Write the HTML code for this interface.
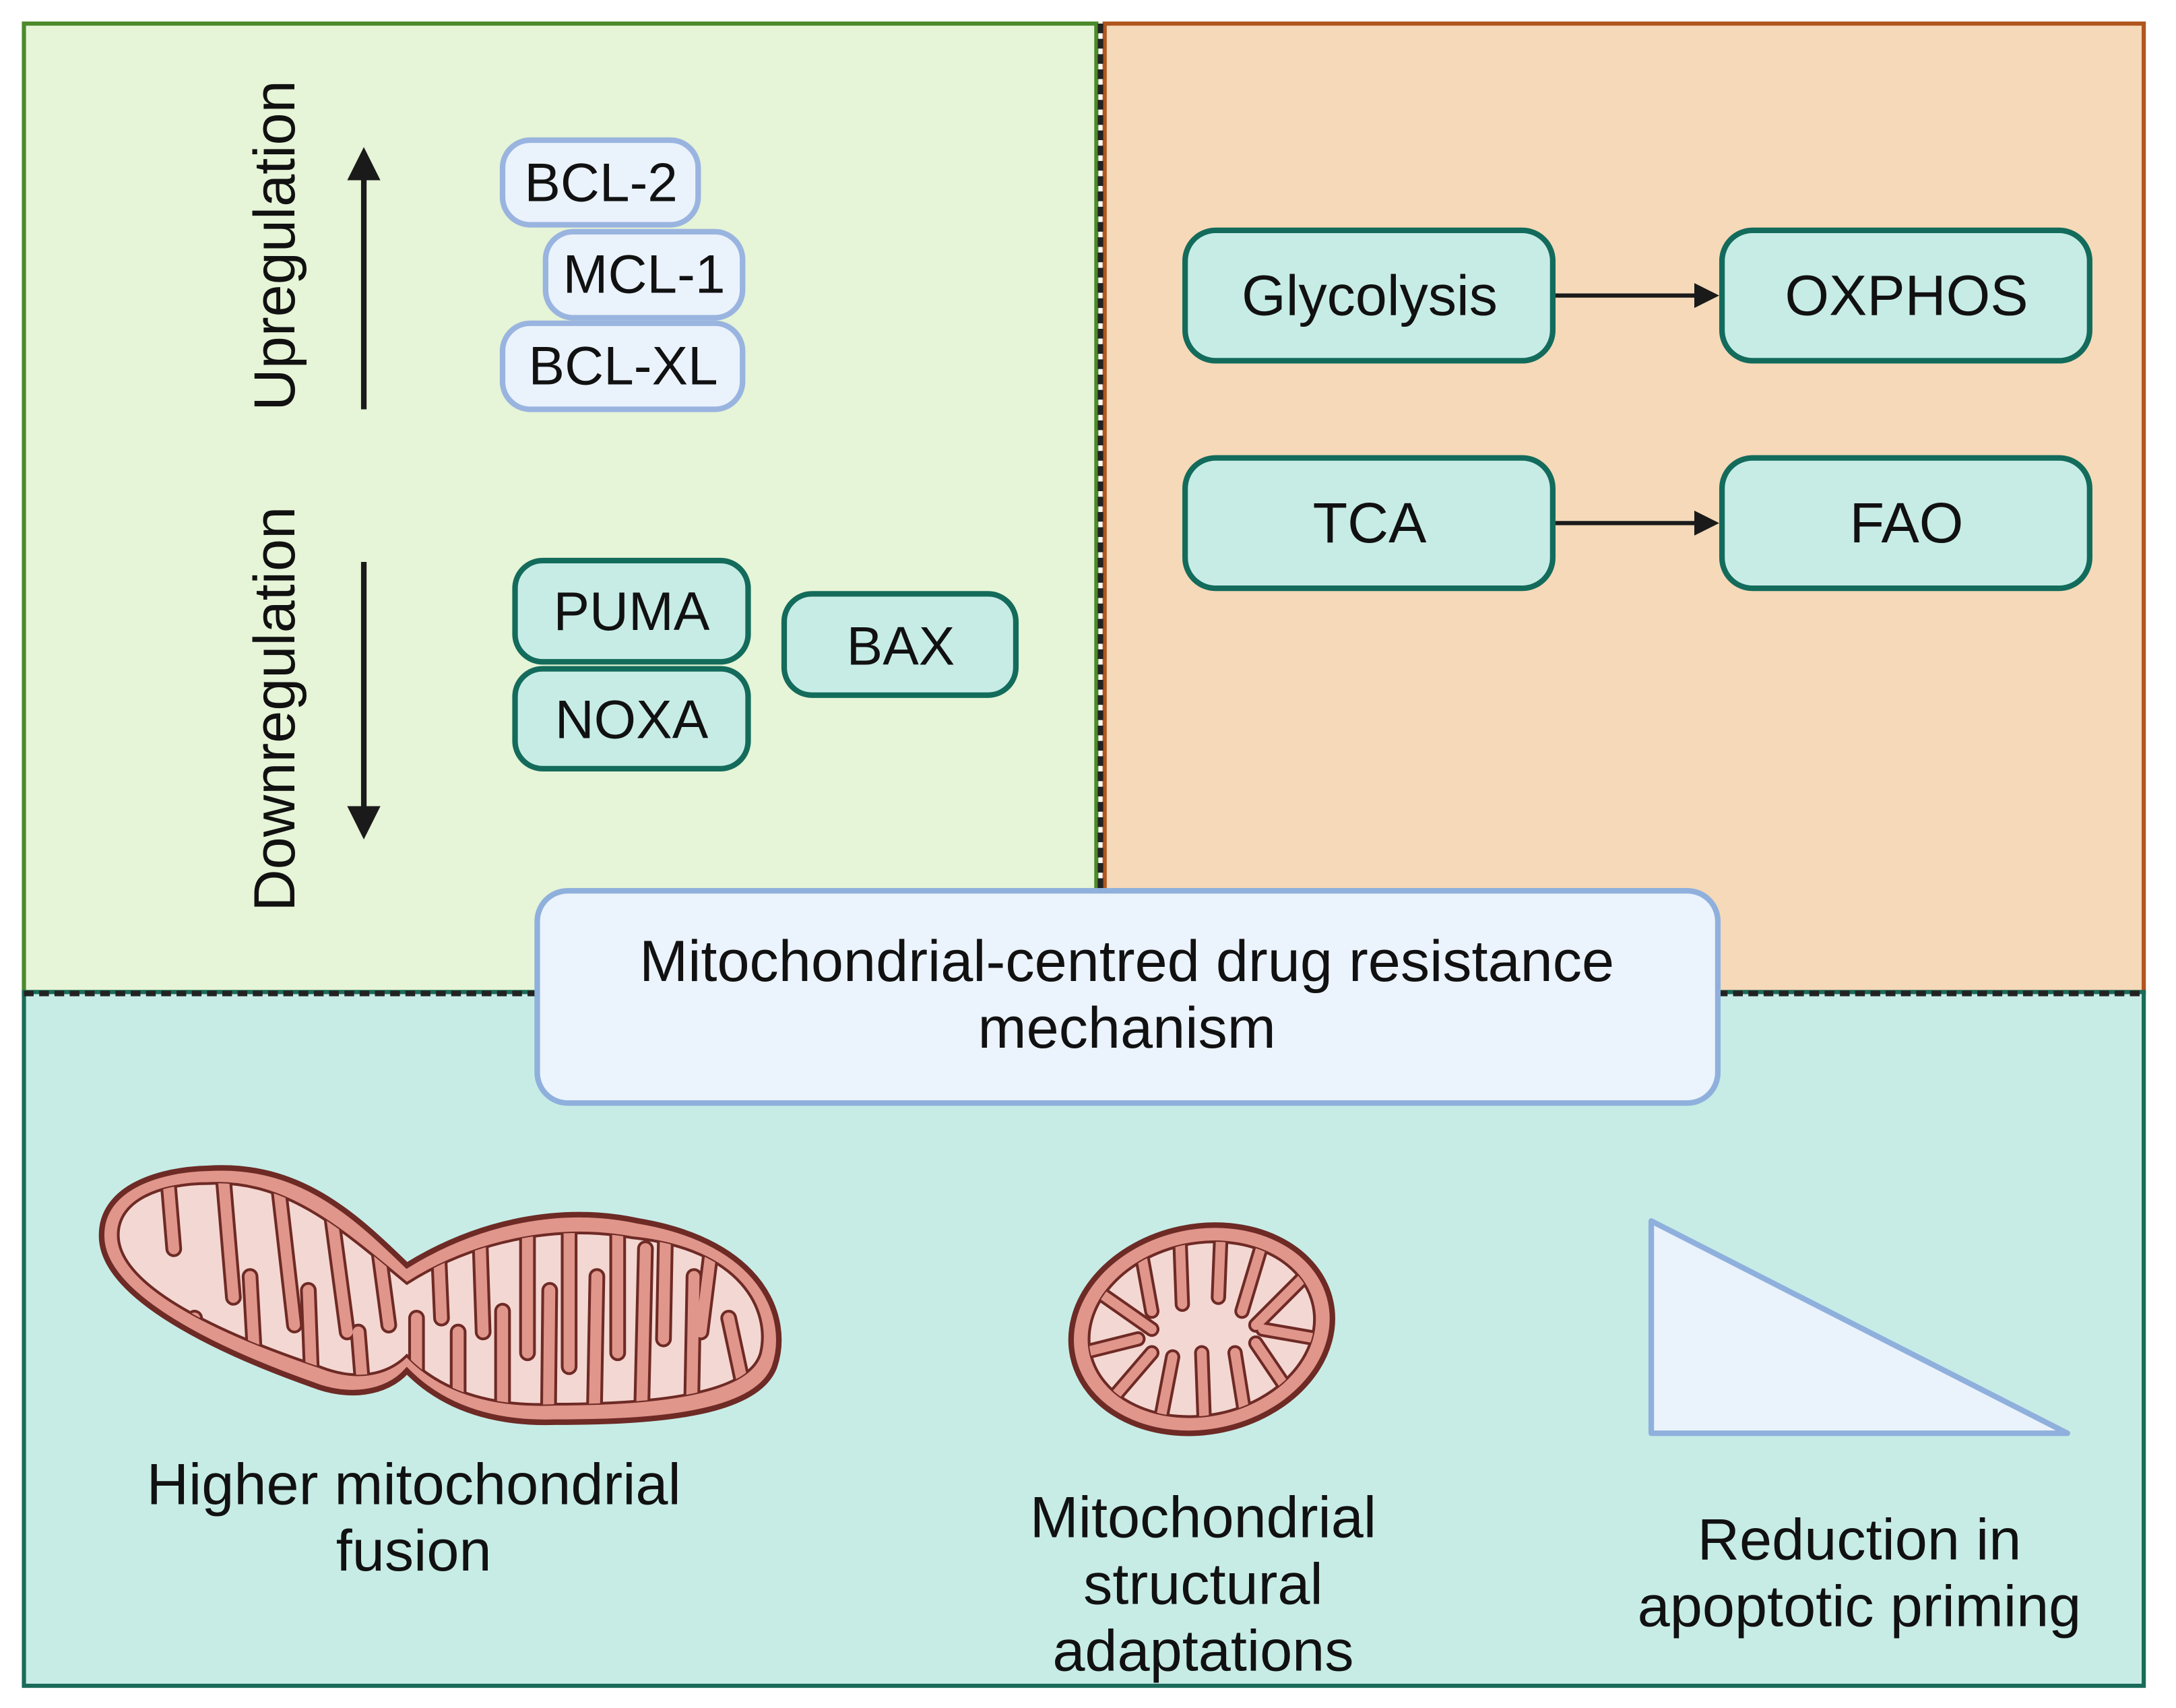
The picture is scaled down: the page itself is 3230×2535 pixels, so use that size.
<!DOCTYPE html>
<html><head><meta charset="utf-8"><style>
html,body{margin:0;padding:0;background:#fff}
svg{display:block}
text{font-family:"Liberation Sans",sans-serif;fill:#111}
</style></head><body>
<svg width="3230" height="2535" viewBox="0 0 1568 1231" xmlns="http://www.w3.org/2000/svg">
<defs>
<marker id="ah" markerWidth="6" markerHeight="6" refX="5" refY="3" orient="auto" markerUnits="strokeWidth"><path d="M0,0 L6,3 L0,6 Z" fill="#1a1a1a"/></marker>
<clipPath id="bigclip"><path d="M150,853 C205,850 245,885 293,925 C340,895 400,882 455,892 C535,900 555,945 548,975 C540,1005 470,1012 400,1012 C335,1015 305,990 293,977 C278,992 255,995 230,985 C170,965 85,930 85,890 C85,865 115,853 150,853 Z"/></clipPath>
<clipPath id="smallclip"><ellipse cx="866" cy="958" rx="82" ry="62" transform="rotate(-12 866 958)"/></clipPath>
</defs>
<rect x="0" y="0" width="1568" height="1231" fill="#fff"/>
<rect x="17" y="17" width="773" height="698" fill="#e6f4d7" stroke="#4c8a2c" stroke-width="3"/>
<rect x="796" y="17" width="749" height="698" fill="#f5d9b8" stroke="#b0561e" stroke-width="3"/>
<line x1="793" y1="17" x2="793" y2="645" stroke="#222" stroke-width="4" stroke-dasharray="7,4"/>
<rect x="17" y="715" width="1528" height="500" fill="#c7ece6" stroke="#1a6b5a" stroke-width="3"/>
<line x1="17" y1="716" x2="1545" y2="716" stroke="#222" stroke-width="4" stroke-dasharray="7,4"/>

<text transform="translate(212,177) rotate(-90)" font-size="42" text-anchor="middle">Upregulation</text>
<text transform="translate(212,511) rotate(-90)" font-size="42" text-anchor="middle">Downregulation</text>
<line x1="262" y1="295" x2="262" y2="110" stroke="#1a1a1a" stroke-width="4" marker-end="url(#ah)"/>
<line x1="262" y1="405" x2="262" y2="601" stroke="#1a1a1a" stroke-width="4" marker-end="url(#ah)"/>

<g fill="#eaf2fc" stroke="#9ab4e0" stroke-width="4">
<rect x="362" y="101" width="141" height="61" rx="20"/>
<rect x="393" y="167" width="142" height="62" rx="20"/>
<rect x="362" y="233" width="173" height="62" rx="20"/>
</g>
<text x="433" y="145" font-size="39" text-anchor="middle">BCL-2</text>
<text x="464" y="211" font-size="39" text-anchor="middle">MCL-1</text>
<text x="449" y="277" font-size="39" text-anchor="middle">BCL-XL</text>

<g fill="#c7ece6" stroke="#136b5b" stroke-width="4">
<rect x="371" y="404" width="168" height="73" rx="20"/>
<rect x="371" y="482" width="168" height="72" rx="20"/>
<rect x="565" y="428" width="167" height="73" rx="20"/>
</g>
<text x="455" y="454" font-size="39" text-anchor="middle">PUMA</text>
<text x="455" y="532" font-size="39" text-anchor="middle">NOXA</text>
<text x="649" y="479" font-size="39" text-anchor="middle">BAX</text>

<g fill="#c7ece6" stroke="#136b5b" stroke-width="4">
<rect x="854" y="166" width="265" height="94" rx="22"/>
<rect x="1241" y="166" width="265" height="94" rx="22"/>
<rect x="854" y="330" width="265" height="94" rx="22"/>
<rect x="1241" y="330" width="265" height="94" rx="22"/>
</g>
<text x="987" y="227" font-size="41" text-anchor="middle">Glycolysis</text>
<text x="1374" y="227" font-size="41" text-anchor="middle">OXPHOS</text>
<text x="987" y="391" font-size="41" text-anchor="middle">TCA</text>
<text x="1374" y="391" font-size="41" text-anchor="middle">FAO</text>
<line x1="1121" y1="213" x2="1236" y2="213" stroke="#1a1a1a" stroke-width="3" marker-end="url(#ah)"/>
<line x1="1121" y1="377" x2="1236" y2="377" stroke="#1a1a1a" stroke-width="3" marker-end="url(#ah)"/>

<rect x="387" y="642" width="851" height="153" rx="22" fill="#ebf3fc" stroke="#8fb0dc" stroke-width="4"/>
<text x="812" y="707" font-size="42" text-anchor="middle">Mitochondrial-centred drug resistance</text>
<text x="812" y="755" font-size="42" text-anchor="middle">mechanism</text>

<path d="M150,842 C215,838 255,875 293,912 C345,880 405,868 460,880 C550,895 570,950 558,985 C545,1020 470,1025 400,1025 C335,1027 305,1000 293,988 C278,1005 250,1008 225,998 C160,975 72,935 73,890 C73,858 110,843 150,842 Z" fill="#e0968b" stroke="#6e2a25" stroke-width="4"/>
<path d="M150,853 C205,850 245,885 293,925 C340,895 400,882 455,892 C535,900 555,945 548,975 C540,1005 470,1012 400,1012 C335,1015 305,990 293,977 C278,992 255,995 230,985 C170,965 85,930 85,890 C85,865 115,853 150,853 Z" fill="#f3d7d2" stroke="#6e2a25" stroke-width="2"/>
<g clip-path="url(#bigclip)" stroke-linecap="round">
<g stroke="#6e2a25" stroke-width="12">
<path d="M120,840 L125,900 M160,840 L168,935 M200,850 L212,955 M238,870 L250,960 M270,880 L280,955 M315,880 L318,950 M345,870 L348,960 M380,860 L380,975 M410,860 L410,985 M445,860 L445,975 M480,860 L478,965 M515,880 L505,960
M110,1010 L100,935 M145,1010 L140,950 M185,1010 L180,920 M225,1010 L222,930 M262,1010 L258,960 M300,1020 L300,950 M330,1030 L330,960 M362,1030 L362,945 M395,1030 L396,930 M428,1030 L430,920 M462,1030 L465,900 M498,1030 L500,920 M540,1020 L525,950"/>
</g>
<g stroke="#e0968b" stroke-width="8">
<path d="M120,840 L125,900 M160,840 L168,935 M200,850 L212,955 M238,870 L250,960 M270,880 L280,955 M315,880 L318,950 M345,870 L348,960 M380,860 L380,975 M410,860 L410,985 M445,860 L445,975 M480,860 L478,965 M515,880 L505,960
M110,1010 L100,935 M145,1010 L140,950 M185,1010 L180,920 M225,1010 L222,930 M262,1010 L258,960 M300,1020 L300,950 M330,1030 L330,960 M362,1030 L362,945 M395,1030 L396,930 M428,1030 L430,920 M462,1030 L465,900 M498,1030 L500,920 M540,1020 L525,950"/>
</g>
</g>

<ellipse cx="866" cy="958" rx="95" ry="74" transform="rotate(-12 866 958)" fill="#e0968b" stroke="#6e2a25" stroke-width="4"/>
<ellipse cx="866" cy="958" rx="82" ry="62" transform="rotate(-12 866 958)" fill="#f3d7d2" stroke="#6e2a25" stroke-width="2"/>
<g clip-path="url(#smallclip)" stroke-linecap="round">
<g stroke="#6e2a25" stroke-width="11">
<path d="M820,890 L830,945 M850,885 L852,940 M880,885 L878,935 M910,895 L895,945 M940,920 L905,955 M790,930 L830,958 M780,975 L820,965 M800,1010 L830,975 M835,1030 L845,978 M868,1030 L866,975 M898,1025 L890,975 M930,1005 L905,968 M950,965 L910,958"/>
</g>
<g stroke="#e0968b" stroke-width="7">
<path d="M820,890 L830,945 M850,885 L852,940 M880,885 L878,935 M910,895 L895,945 M940,920 L905,955 M790,930 L830,958 M780,975 L820,965 M800,1010 L830,975 M835,1030 L845,978 M868,1030 L866,975 M898,1025 L890,975 M930,1005 L905,968 M950,965 L910,958"/>
</g>
</g>

<path d="M1190,880 L1190,1033 L1490,1033 Z" fill="#eaf2fc" stroke="#8fb0dc" stroke-width="4" stroke-linejoin="round"/>

<g font-size="42" text-anchor="middle">
<text x="298" y="1084">Higher mitochondrial</text>
<text x="298" y="1132">fusion</text>
<text x="867" y="1108">Mitochondrial</text>
<text x="867" y="1156">structural</text>
<text x="867" y="1204">adaptations</text>
<text x="1340" y="1124">Reduction in</text>
<text x="1340" y="1172">apoptotic priming</text>
</g>
</svg>
</body></html>
